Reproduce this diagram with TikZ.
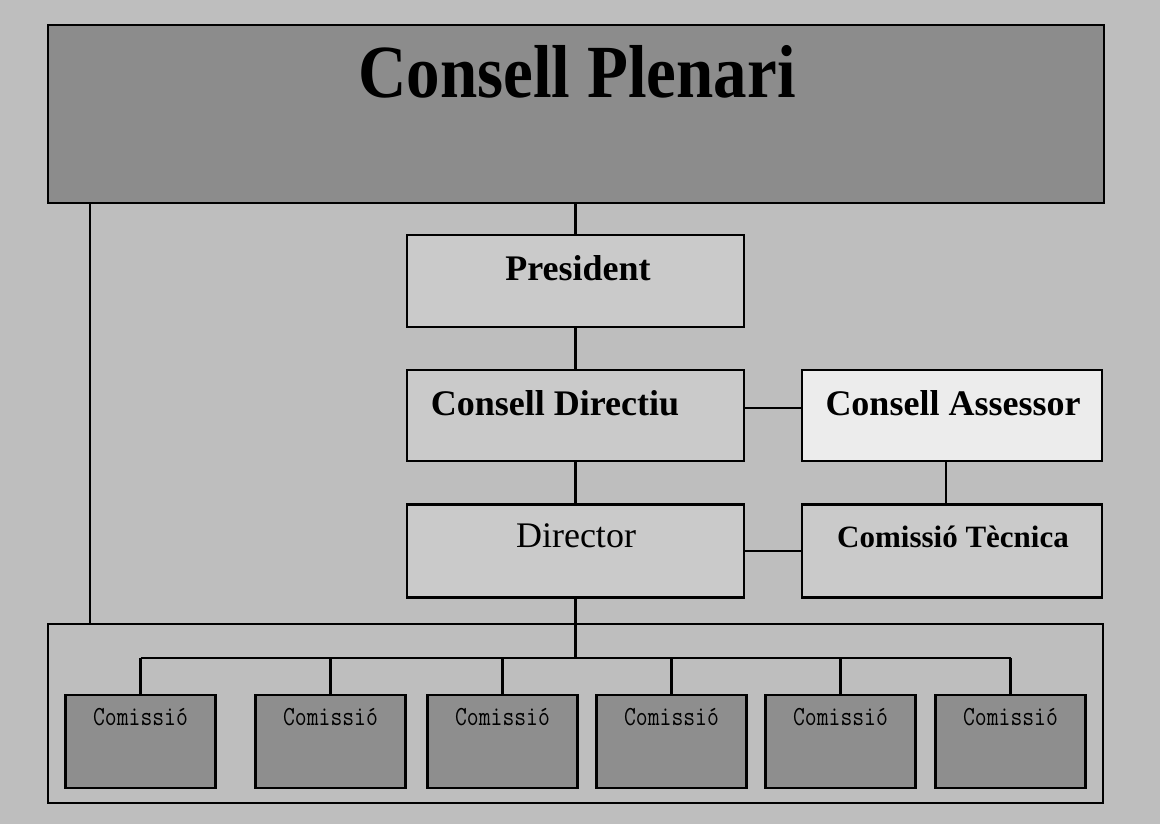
\documentclass[tikz,border=0pt]{standalone}
\usepackage{fontspec}
\setmainfont{Liberation Serif}
\usepackage{graphicx}
\definecolor{bgc}{HTML}{BEBEBE}
\definecolor{darkc}{HTML}{8C8C8C}
\definecolor{midc}{HTML}{CACACA}
\definecolor{litec}{HTML}{ECECEC}
\definecolor{comc}{HTML}{8E8E8E}
\begin{document}
\begin{tikzpicture}[x=1pt,y=-1pt,
  box/.style={draw=black, line width=2.2pt, rectangle, inner sep=0pt},
  wire/.style={draw=black, line width=2.2pt},
  big/.style={anchor=base, font=\fontsize{67}{80}\selectfont\bfseries},
  mid/.style={anchor=base, font=\fontsize{36}{42}\selectfont\bfseries},
  midr/.style={anchor=base, font=\fontsize{36}{42}\selectfont},
  ctx/.style={anchor=base, font=\fontsize{31}{38}\selectfont\bfseries},
  com/.style={box, fill=comc, minimum width=150, minimum height=93},
  comtxt/.style={anchor=base, font=\fontsize{23}{27}\selectfont\ttfamily}
]
\fill[bgc] (0,0) rectangle (1160,824);
\useasboundingbox (0,0) rectangle (1160,824);

% boxes
\node[box, fill=darkc, minimum width=1056, minimum height=178] (plen) at (576,114) {};
\node[box, fill=midc, minimum width=337, minimum height=92] (pres) at (575.5,281) {};
\node[box, fill=midc, minimum width=337, minimum height=91] (cd) at (575.5,415.5) {};
\node[box, fill=litec, minimum width=300, minimum height=91] (ca) at (952,415.5) {};
\node[box, fill=midc, minimum width=337, minimum height=93] (dir) at (575.5,551) {};
\node[box, fill=midc, minimum width=300, minimum height=93] (ct) at (952,551) {};
\node[box, minimum width=1055, minimum height=179] (outer) at (575.5,713.5) {};

\node[com] (c1) at (140.5,741.5) {};
\node[com] (c2) at (330.5,741.5) {};
\node[com] (c3) at (502.5,741.5) {};
\node[com] (c4) at (671.5,741.5) {};
\node[com] (c5) at (840.5,741.5) {};
\node[com] (c6) at (1010.5,741.5) {};

% texts
\node[big] (tplen) at (577,98) {\scalebox{1}[1.12]{Consell Plenari}};
\node[mid] (tpres) at (578,280) {President};
\node[mid] (tcd) at (555,415) {Consell Directiu};
\node[mid] (tca) at (953,415) {Consell Assessor};
\node[midr] (tdir) at (576,547) {Director};
\node[ctx] (tct) at (953,547) {Comissió Tècnica};
\foreach \i in {1,...,6} {
  \node[comtxt] (tc\i) at ([yshift=-32pt]c\i.north) {\scalebox{1}[1.2]{Comissió}};
}

% connectors
\coordinate (lx) at (90,0);
\coordinate (bus) at (0,658);
\draw[wire] (pres.north) -- (pres.north |- plen.south);
\draw[wire] (pres.south) -- (cd.north);
\draw[wire] (cd.south) -- (dir.north);
\draw[wire] (dir.south) -- (dir.south |- bus);
\draw[wire] (plen.south -| lx) -- (outer.north -| lx);
\draw[wire] ([yshift=7.5pt]cd.east) -- ([yshift=7.5pt]cd.east -| ca.west);
\draw[wire] (dir.east) -- (ct.west);
\draw[wire] ([xshift=-6pt]ca.south) -- ([xshift=-6pt]ca.south |- ct.north);
\draw[wire] (c1.north |- bus) -- (c6.north |- bus);
\foreach \i in {1,...,6} {
  \draw[wire] (c\i.north) -- (c\i.north |- bus);
}
\end{tikzpicture}
\end{document}
